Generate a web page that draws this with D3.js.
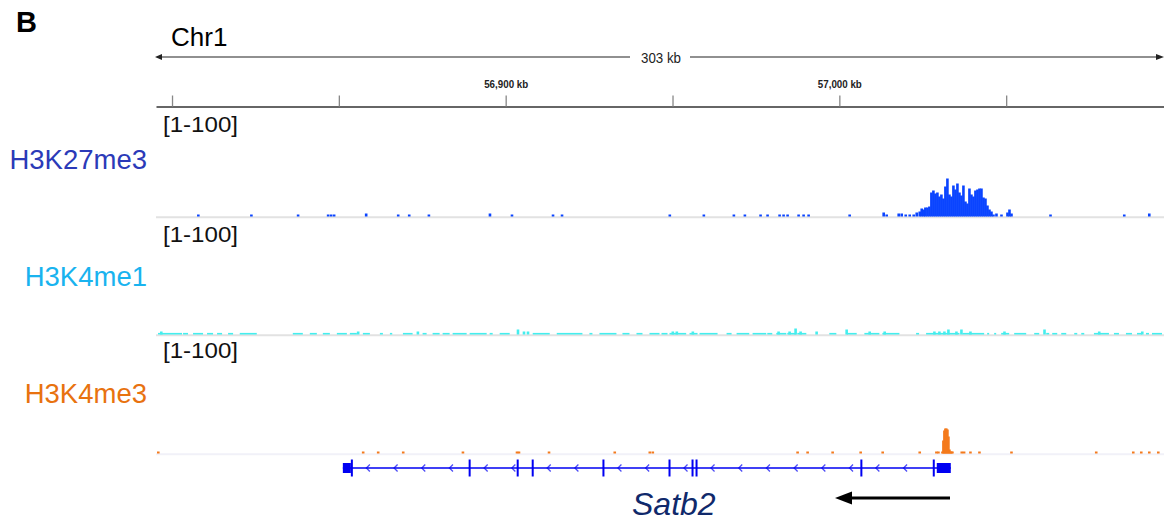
<!DOCTYPE html>
<html>
<head>
<meta charset="utf-8">
<script src="https://cdn.jsdelivr.net/npm/d3@7"></script>
<style>
  body { margin: 0; background: #fff; }
  svg { display: block; font-family: "Liberation Sans", Arial, sans-serif; }
</style>
</head>
<body>
<div id="chart"></div>
<script>
// ---- data (genomic positions in kb, signal in [0-100] units) ----
const regionStart = 56795.2;
const regionEnd = 57097.3;
const spanLabel = '303 kb';
const rulerTicks = [56800, 56850, 56900, 56950, 57000, 57050];
const rulerLabels = { 56900: '56,900 kb', 57000: '57,000 kb' };

const trackNames = ['H3K27me3', 'H3K4me1', 'H3K4me3'];
const trackRanges = ['[1-100]', '[1-100]', '[1-100]'];

// H3K27me3 bins
const k27Pos = [56807.5, 56823.4, 56837.4, 56846.4, 56847.3, 56848.2, 56857.8, 56867.4, 56870.7,
  56876.6, 56894.9, 56901.5, 56913.8, 56916.5, 56948.8, 56959.0, 56968.0, 56971.3, 56976.0,
  56978.1, 56981.7, 56982.9, 56984.1, 56987.4, 56988.9, 56990.4, 57002.7, 57012.9, 57013.8,
  57017.4, 57018.3, 57019.5, 57020.7, 57021.9,
  57022.8, 57023.7, 57024.3, 57024.9, 57025.4, 57026.0, 57026.6, 57027.2, 57027.8, 57028.4,
  57029.0, 57029.6, 57030.2, 57030.8, 57031.4, 57032.0, 57032.6, 57033.2, 57033.8, 57034.4,
  57035.0, 57035.6, 57036.2, 57036.8, 57037.4, 57038.0, 57038.6, 57039.2, 57039.8, 57040.4,
  57041.0, 57041.6, 57042.2, 57042.8, 57043.4, 57044.0, 57044.6, 57045.2, 57045.8, 57046.7,
  57048.2, 57050.0, 57050.6, 57051.2, 57062.9, 57085.0, 57092.5];
const k27Val = [2, 2, 2, 2, 2, 2, 3, 2, 2,
  2, 3, 2, 2, 2, 2, 2, 2, 2, 2,
  2, 2, 2, 2, 2, 2, 2, 2, 4, 2,
  3, 3, 2, 2, 2,
  4, 5, 8, 7, 9, 9, 10, 24, 26, 23,
  24, 20, 22, 18, 30, 38, 22, 20, 31, 27,
  33, 24, 21, 31, 15, 13, 28, 22, 20, 26,
  27, 28, 28, 19, 18, 11, 7, 5, 2, 3,
  2, 4, 7, 3, 2, 2, 3];

// H3K4me1 low background runs and spikes
const k4me1Start = [56795.8, 56803.3, 56806.3, 56810.5, 56813.5, 56816.8, 56820.3, 56836.2, 56841.3,
  56845.2, 56849.4, 56853.3, 56857.2, 56862.3, 56865.3, 56869.2, 56875.1, 56878.1, 56881.1,
  56884.1, 56889.2, 56895.2, 56898.2, 56908.1, 56915.3, 56925.1, 56928.1, 56935.0, 56939.2,
  56943.1, 56946.7, 56949.1, 56955.1, 56958.1, 56966.2, 56969.2, 56974.0, 56978.4, 56981.1,
  56984.4, 56987.4, 56997.0, 57002.2, 57007.5, 57012.9, 57023.0, 57026.0, 57036.9, 57044.3,
  57046.4, 57048.5, 57052.4, 57058.4, 57062.0, 57063.8, 57066.5, 57070.4, 57072.5, 57076.3,
  57082.3, 57085.9, 57089.2, 57091.9, 57093.7];
const k4me1End = [56803.0, 56804.8, 56809.3, 56812.3, 56815.0, 56818.3, 56825.4, 56839.2, 56843.4,
  56847.3, 56852.4, 56855.4, 56859.3, 56863.2, 56866.0, 56872.1, 56876.3, 56880.2, 56883.2,
  56888.3, 56894.3, 56896.1, 56901.2, 56913.2, 56923.0, 56926.0, 56933.2, 56937.1, 56941.0,
  56946.1, 56948.5, 56954.1, 56957.5, 56963.5, 56967.7, 56973.0, 56978.1, 56979.9, 56984.1,
  56987.1, 56990.1, 56999.1, 57005.2, 57012.0, 57018.0, 57023.9, 57036.0, 57043.4, 57044.9,
  57047.0, 57050.9, 57056.0, 57059.9, 57062.9, 57065.3, 57068.0, 57071.3, 57073.4, 57080.8,
  57083.8, 57087.7, 57090.7, 57092.8, 57096.7];
const k4me1Low = 1.6;
const k4me1SpikePos = [56796.4, 56855.4, 56873.3, 56903.3, 56905.1, 56906.3, 56949.7, 56950.9, 56955.7,
  56981.4, 56984.7, 56986.5, 56988.0, 56992.8, 57001.8, 57008.7, 57013.2, 57028.1, 57029.6,
  57031.1, 57032.3, 57034.7, 57036.2, 57038.9, 57049.1, 57061.1, 57077.5, 57090.4];
const k4me1SpikeVal = [3, 3, 3, 5, 3, 3, 3, 3, 3,
  3, 3, 6, 3, 3, 5, 3, 3, 3, 3,
  3, 5, 3, 5, 3, 3, 5, 3, 3];

// H3K4me3 bins
const k4me3Pos = [56795.5, 56856.9, 56861.4, 56868.9, 56886.8, 56903.0, 56903.6, 56912.6, 56932.3,
  56942.8, 56943.7, 56987.1, 56990.1, 56997.6, 57006.0, 57012.6, 57023.7, 57028.7, 57029.3,
  57030.5, 57030.8, 57031.1, 57031.4, 57031.7, 57032.0, 57032.3, 57032.6, 57032.9, 57033.2,
  57033.5, 57036.3, 57037.0, 57038.9, 57041.6, 57051.2, 57076.6, 57087.7, 57090.1, 57092.5, 57095.2];
const k4me3Val = [2, 2, 2, 2, 2, 2, 2, 2, 2,
  2, 2, 2, 2, 2, 2, 2, 2, 2, 2,
  2, 13, 23, 25, 25, 24, 17, 4, 2, 2,
  2, 2, 2, 2, 2, 2, 2, 2, 2, 2, 2];

// Satb2 gene model (minus strand)
const geneName = 'Satb2';
const utrStart = [56851.2, 57029.2];
const utrEnd = [56853.6, 57033.4];
const cdsStart = [56853.6, 56888.9, 56903.3, 56907.8, 56929.0, 56948.8, 56955.7, 56956.9, 57006.3, 57028.0];
const cdsEnd = [56854.2, 56889.5, 56903.9, 56908.4, 56929.6, 56949.4, 56956.3, 56957.5, 57006.9, 57028.6];

// ---- layout ----
const WIDTH = 1164;
const HEIGHT = 521;
const TRACK_LEFT = 156;
const TRACK_RIGHT = 1164;
const TRACK_H = 100;
const baselines = [216.5, 334.5, 453.5];
const rangeY = [132, 242, 358];
const nameY = [169, 286, 403];
const nameColors = ['#2b3ab8', '#19b3ef', '#e8720f'];
const dataColors = ['#0a44ff', '#44eeee', '#f47a1c'];
const GENE_Y = 468;
const GENE_COLOR = '#0000f2';
const BIN = 0.6;

const $svg = d3.select('#chart').append('svg')
  .attr('width', WIDTH)
  .attr('height', HEIGHT);

const scaleX = d3.scaleLinear().domain([regionStart, regionEnd]).range([TRACK_LEFT, TRACK_RIGHT]);
const scaleY = d3.scaleLinear().domain([0, 100]).range([0, TRACK_H]);

// panel letter + chromosome
$svg.append('text').attr('x', 16).attr('y', 32)
  .style('font-size', '29px').style('font-weight', 'bold').text('B');
$svg.append('text').attr('x', 171).attr('y', 46)
  .style('font-size', '26px').text('Chr1');

// span ruler
const $span = $svg.append('g').attr('class', 'g-span');
$span.append('line')
  .attr('x1', TRACK_LEFT + 2).attr('x2', TRACK_RIGHT - 4)
  .attr('y1', 57).attr('y2', 57)
  .attr('stroke', '#222').attr('stroke-width', 1.2);
$span.append('path').attr('d', 'M155,57 L162,54 L162,60 Z').attr('fill', '#222');
$span.append('path').attr('d', 'M1164,57 L1156,54 L1156,60 Z').attr('fill', '#222');
$span.append('rect').attr('x', 630).attr('y', 48).attr('width', 60).attr('height', 18).attr('fill', '#fff');
$span.append('text').attr('x', 661).attr('y', 63)
  .attr('text-anchor', 'middle')
  .attr('textLength', 40).attr('lengthAdjust', 'spacingAndGlyphs')
  .style('font-size', '15px').style('fill', '#222').text(spanLabel);

// position axis
const $axis = $svg.append('g').attr('class', 'g-axis')
  .attr('transform', 'translate(0,106.5)')
  .call(d3.axisTop(scaleX)
    .tickValues(rulerTicks)
    .tickSize(12)
    .tickSizeOuter(0)
    .tickPadding(7)
    .tickFormat((d) => rulerLabels[d] || ''));
$axis.select('.domain').attr('stroke', '#333').attr('stroke-width', 1.3);
$axis.selectAll('.tick line').attr('stroke', '#888').attr('stroke-width', 1.3)
  .attr('y1', 0).attr('y2', -11);
$axis.selectAll('.tick text')
  .attr('fill', '#222')
  .style('font-family', '"Liberation Sans", Arial, sans-serif')
  .style('font-size', '11.5px')
  .style('font-weight', 'bold')
  .attr('textLength', (d) => (rulerLabels[d] ? 44 : null))
  .attr('lengthAdjust', 'spacingAndGlyphs');

// helper: draw bars of a signal track (slight overlap so adjacent bins fuse)
function bars($g, base, pos, val, width, color) {
  $g.selectAll(null)
    .data(d3.zip(pos, val))
    .join('rect')
    .attr('x', (d) => scaleX(d[0]))
    .attr('width', (d) => Math.max(1.6, scaleX(d[0] + width) - scaleX(d[0]) + 0.6))
    .attr('y', (d) => base - scaleY(d[1]))
    .attr('height', (d) => scaleY(d[1]))
    .attr('fill', color);
}

// tracks
trackNames.forEach((name, i) => {
  const $t = $svg.append('g').attr('class', `g-track g-track-${i}`);
  $t.append('text').attr('x', 147).attr('y', nameY[i])
    .attr('text-anchor', 'end')
    .style('font-size', '27.5px').style('fill', nameColors[i]).text(name);
  $t.append('text').attr('x', 163).attr('y', rangeY[i])
    .attr('textLength', 75).attr('lengthAdjust', 'spacingAndGlyphs')
    .style('font-size', '22.5px').style('fill', '#111').text(trackRanges[i]);
  $t.append('line')
    .attr('x1', TRACK_LEFT).attr('x2', TRACK_RIGHT)
    .attr('y1', baselines[i] + 0.8).attr('y2', baselines[i] + 0.8)
    .attr('stroke', i === 2 ? '#f1f1f8' : '#e2e2e2').attr('stroke-width', 2);
});

const $sig = $svg.append('g').attr('class', 'g-signal');
bars($sig.append('g'), baselines[0], k27Pos, k27Val, BIN, dataColors[0]);
$sig.append('g').selectAll(null)
  .data(d3.zip(k4me1Start, k4me1End))
  .join('rect')
  .attr('x', (d) => scaleX(d[0]))
  .attr('width', (d) => scaleX(d[1]) - scaleX(d[0]))
  .attr('y', baselines[1] - scaleY(k4me1Low))
  .attr('height', scaleY(k4me1Low))
  .attr('fill', dataColors[1]);
bars($sig.append('g'), baselines[1], k4me1SpikePos, k4me1SpikeVal, BIN, dataColors[1]);
bars($sig.append('g'), baselines[2], k4me3Pos, k4me3Val, BIN, dataColors[2]);

// gene model
const $gene = $svg.append('g').attr('class', 'g-gene');
const feats = d3.zip(utrStart, utrEnd).concat(d3.zip(cdsStart, cdsEnd)).sort((a, b) => a[0] - b[0]);
$gene.append('line')
  .attr('x1', scaleX(d3.min(utrStart))).attr('x2', scaleX(d3.max(utrEnd)))
  .attr('y1', GENE_Y).attr('y2', GENE_Y)
  .attr('stroke', GENE_COLOR).attr('stroke-width', 1.6);

// strand chevrons inside each intron
const chevrons = [];
for (let i = 1; i < feats.length; i += 1) {
  const a = scaleX(feats[i - 1][1]);
  const b = scaleX(feats[i][0]);
  for (let px = a + 15; px < b - 3; px += 27.7) chevrons.push(px);
}
$gene.selectAll('.chev')
  .data(chevrons)
  .join('path')
  .attr('class', 'chev')
  .attr('d', (px) => `M${px + 2},${GENE_Y - 3.5} L${px - 1.5},${GENE_Y} L${px + 2},${GENE_Y + 3.5}`)
  .attr('fill', 'none')
  .attr('stroke', GENE_COLOR)
  .attr('stroke-opacity', 0.7)
  .attr('stroke-width', 1.3);

$gene.selectAll('.utr')
  .data(d3.zip(utrStart, utrEnd))
  .join('rect')
  .attr('class', 'utr')
  .attr('x', (d) => scaleX(d[0]))
  .attr('width', (d) => scaleX(d[1]) - scaleX(d[0]))
  .attr('y', GENE_Y - 5)
  .attr('height', 10)
  .attr('fill', GENE_COLOR);
$gene.selectAll('.cds')
  .data(d3.zip(cdsStart, cdsEnd))
  .join('rect')
  .attr('class', 'cds')
  .attr('x', (d) => scaleX(d[0]))
  .attr('width', (d) => Math.max(2, scaleX(d[1]) - scaleX(d[0])))
  .attr('y', GENE_Y - 8.5)
  .attr('height', 17)
  .attr('fill', GENE_COLOR);

// gene label + direction arrow
$svg.append('text').attr('x', 632).attr('y', 515)
  .style('font-size', '32px').style('font-style', 'italic')
  .style('fill', '#10296b').text(geneName);
$svg.append('line').attr('x1', 848).attr('x2', 950).attr('y1', 498).attr('y2', 498)
  .attr('stroke', '#000').attr('stroke-width', 3);
$svg.append('path').attr('d', 'M835,498 L852,491.5 L852,504.5 Z').attr('fill', '#000');
</script>
</body>
</html>
